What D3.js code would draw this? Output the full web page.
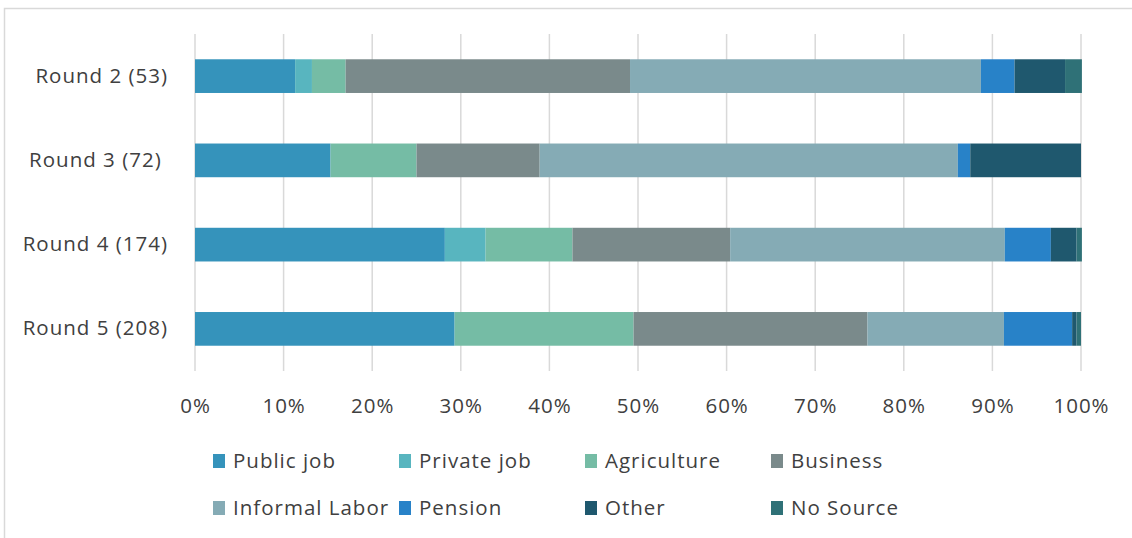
<!DOCTYPE html>
<html>
<head>
<meta charset="utf-8">
<script src="https://cdnjs.cloudflare.com/ajax/libs/d3/7.8.5/d3.min.js"></script>
<style>
  body { margin: 0; background: #fff; }
  text { font-family: "Open Sans", sans-serif; fill: #404040; letter-spacing: 1px; }
</style>
</head>
<body>
<svg id="chart" width="1132" height="538"></svg>
<script>
  // rounds (respondents in brackets), top to bottom
  var rounds = ["Round 2 (53)", "Round 3 (72) ", "Round 4 (174)", "Round 5 (208)"];
  var sources = ["Public job", "Private job", "Agriculture", "Business",
                 "Informal Labor", "Pension", "Other", "No Source"];
  var colors = ["#3593bb", "#58b5bf", "#75bca5", "#7a8a8b",
                "#85abb5", "#2882c8", "#1f586e", "#2f7177"];

  // share of households per source, % (one entry per round)
  var publicJob   = [11.3, 15.3, 28.2, 29.3];
  var privateJob  = [1.9, 0.0, 4.6, 0.0];
  var agriculture = [3.8, 9.7, 9.8, 20.2];
  var business    = [32.1, 13.9, 17.8, 26.4];
  var informal    = [39.6, 47.2, 31.0, 15.4];
  var pension     = [3.8, 1.4, 5.2, 7.7];
  var other       = [5.7, 12.5, 2.9, 0.5];
  var noSource    = [1.9, 0.0, 0.6, 0.5];

  var tickValues = [0, 10, 20, 30, 40, 50, 60, 70, 80, 90, 100];

  var series = [publicJob, privateJob, agriculture, business, informal, pension, other, noSource];

  var rows = rounds.map(function(r, i) {
    var row = { round: r };
    sources.forEach(function(s, j) { row[s] = series[j][i]; });
    return row;
  });

  var svg = d3.select("#chart");

  // outer chart border
  svg.append("rect")
      .attr("x", 4.5).attr("y", 8.5)
      .attr("width", 1140).attr("height", 600)
      .attr("fill", "none")
      .attr("stroke", "#d9d9d9")
      .attr("stroke-width", 1.5);

  var x = d3.scaleLinear().domain([0, 100]).range([195, 1081]);
  var y = d3.scaleBand().domain(rounds).range([34, 371])
      .paddingInner(0.6).paddingOuter(0.3);

  // gridlines
  svg.append("g").selectAll("line")
      .data(tickValues)
      .enter().append("line")
      .attr("x1", function(d) { return x(d); })
      .attr("x2", function(d) { return x(d); })
      .attr("y1", 34).attr("y2", 371)
      .attr("stroke", "#d9d9d9")
      .attr("stroke-width", 1.5);

  // x axis labels
  var xAxis = d3.axisBottom(x)
      .tickValues(tickValues)
      .tickSize(0)
      .tickPadding(0)
      .tickFormat(function(d) { return d + "%"; });
  var gx = svg.append("g")
      .attr("transform", "translate(0,398)")
      .call(xAxis);
  gx.select(".domain").remove();
  gx.selectAll("text")
      .attr("dy", "0.71em")
      .style("font-size", "20.5px");

  // y axis labels
  var yAxis = d3.axisLeft(y).tickSize(0).tickPadding(27);
  var gy = svg.append("g")
      .attr("transform", "translate(195,0)")
      .call(yAxis);
  gy.select(".domain").remove();
  gy.selectAll("text")
      .style("font-size", "20.5px")
      .style("white-space", "pre");

  // stacked bars
  var stack = d3.stack().keys(sources)(rows);
  var layer = svg.append("g").selectAll("g")
      .data(stack)
      .enter().append("g")
      .attr("fill", function(d, i) { return colors[i]; });
  layer.selectAll("rect")
      .data(function(d) { return d; })
      .enter().append("rect")
      .attr("x", function(d) { return x(d[0]); })
      .attr("width", function(d) { return x(d[1]) - x(d[0]); })
      .attr("y", function(d) { return y(d.data.round); })
      .attr("height", y.bandwidth());

  // legend, two rows of four
  var legend = svg.append("g");
  var colX = [213, 399, 585, 771];
  var rowY = [461, 508];
  var prevEnd = 0;
  sources.forEach(function(s, i) {
    var col = i % 4, row = Math.floor(i / 4);
    var lx = colX[col];
    if (col > 0 && prevEnd + 6 > lx) { lx = prevEnd + 6; }
    var item = legend.append("g");
    item.append("rect")
        .attr("x", lx).attr("y", rowY[row] - 7)
        .attr("width", 12).attr("height", 14)
        .attr("fill", colors[i]);
    var t = item.append("text")
        .attr("x", lx + 20).attr("y", rowY[row])
        .attr("dy", "0.35em")
        .style("font-size", "20.5px")
        .text(s);
    prevEnd = lx + 20 + t.node().getComputedTextLength();
  });
</script>
</body>
</html>
